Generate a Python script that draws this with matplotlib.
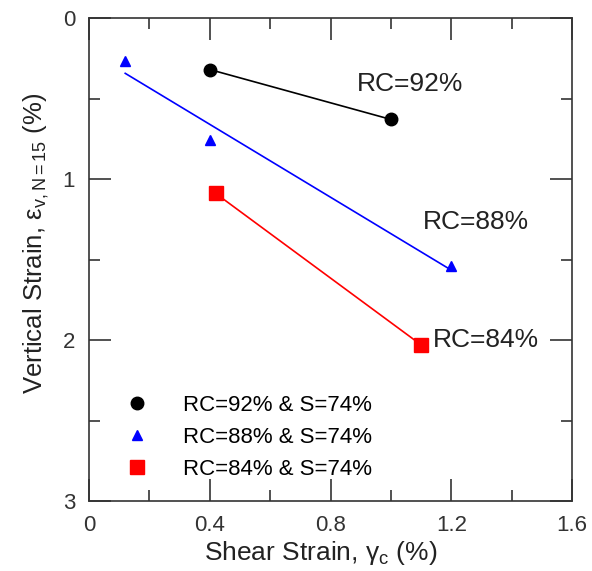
import matplotlib
matplotlib.use("Agg")
import matplotlib.pyplot as plt
import numpy as np
from matplotlib.ticker import MultipleLocator

plt.rcParams["font.family"] = ["Liberation Sans", "DejaVu Sans"]
plt.rcParams["mathtext.fontset"] = "custom"
plt.rcParams["mathtext.rm"] = "Liberation Sans"
plt.rcParams["mathtext.it"] = "Liberation Sans"
plt.rcParams["mathtext.default"] = "regular"

# data
rc92_x = [0.40, 1.00]
rc92_y = [0.32, 0.63]
rc88_x = [0.12, 0.40, 1.20]
rc88_y = [0.27, 0.76, 1.54]
rc84_x = [0.42, 1.10]
rc84_y = [1.09, 2.03]

legend_labels = ["RC=92% & S=74%", "RC=88% & S=74%", "RC=84% & S=74%"]

fig = plt.figure(figsize=(5.92, 5.71), dpi=100)
ax = fig.add_axes([89 / 592, 1 - 501 / 571, (572 - 89) / 592, (501 - 18) / 571])

# lines (blue one is a least-squares fit)
ax.plot(rc92_x, rc92_y, color="black", lw=1.2)
k, b = np.polyfit(rc88_x, rc88_y, 1)
xf = np.array([min(rc88_x), max(rc88_x)])
ax.plot(xf, k * xf + b, color="blue", lw=1.2)
ax.plot(rc84_x, rc84_y, color="red", lw=1.2)

# markers
ax.plot(rc92_x, rc92_y, "o", color="black", ms=9, ls="none", label=legend_labels[0])
ax.plot(rc88_x, rc88_y, "^", color="blue", ms=7, ls="none", label=legend_labels[1])
ax.plot(rc84_x, rc84_y, "s", color="red", ms=10, ls="none", label=legend_labels[2])

ax.text(1.063, 0.41, "RC=92%", fontsize=19, ha="center", va="center", color="#222222")
ax.text(1.282, 1.267, "RC=88%", fontsize=19, ha="center", va="center", color="#222222")
ax.text(1.316, 2.0, "RC=84%", fontsize=19, ha="center", va="center", color="#222222")

ax.set_xlim(0, 1.6)
ax.set_ylim(3, 0)
ax.xaxis.set_major_locator(MultipleLocator(0.4))
ax.xaxis.set_minor_locator(MultipleLocator(0.2))
ax.yaxis.set_major_locator(MultipleLocator(1))
ax.yaxis.set_minor_locator(MultipleLocator(0.5))
ax.set_xticks([0, 0.4, 0.8, 1.2, 1.6])
ax.set_xticklabels(["0", "0.4", "0.8", "1.2", "1.6"])
ax.tick_params(which="both", direction="in", top=True, right=True, labelsize=16,
               width=1.2, color="#333333", labelcolor="#333333")
ax.tick_params(axis="x", which="major", length=16, pad=10)
ax.tick_params(axis="y", which="major", length=16, pad=10)
ax.tick_params(which="minor", length=8)
for s in ax.spines.values():
    s.set_linewidth(1.2)
    s.set_color("#333333")

ax.set_xlabel(r"Shear Strain, $\gamma_c$ (%)", fontsize=19, color="#222222", labelpad=2)
ax.set_ylabel(r"Vertical Strain, $\varepsilon_{v,N=15}$ (%)", fontsize=18.5,
              color="#222222", labelpad=8)
ax.xaxis.label.set_x(0.48)
ax.yaxis.label.set_y(0.534)

ax.legend(loc="lower left", bbox_to_anchor=(0.03, 0.011), borderaxespad=0.3,
          frameon=False, fontsize=16, handletextpad=1.3, labelspacing=0.5,
          markerscale=1.0, handlelength=1.6)

fig.savefig("out.png", dpi=100)
